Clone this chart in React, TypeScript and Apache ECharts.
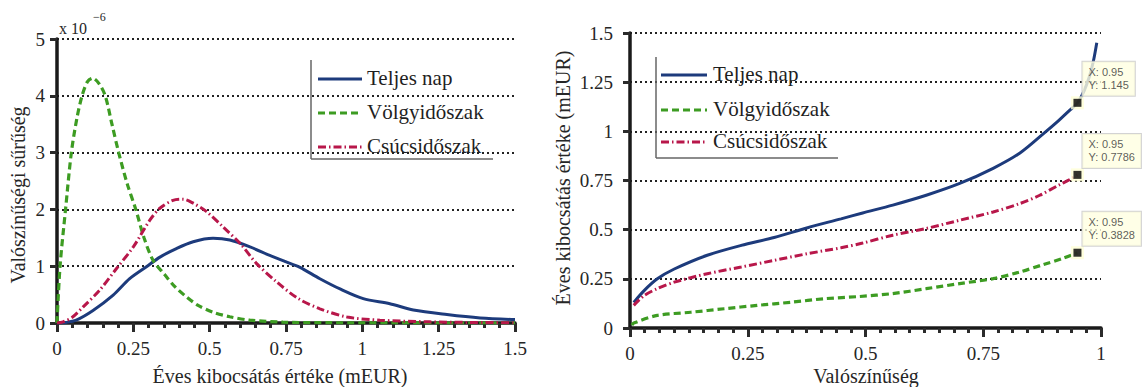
import React, { useEffect, useRef } from 'react';
import * as echarts from 'echarts';

// ---------- data ----------
const seriesNames = ['Teljes nap', 'Völgyidőszak', 'Csúcsidőszak'];

// Left chart: probability density (x 10^-6) vs annual emission value (mEUR)
const leftXTicks = [0, 0.25, 0.5, 0.75, 1, 1.25, 1.5];
const leftYTicks = [0, 1, 2, 3, 4, 5];

const pdfTeljes: [number, number][] = [
  [0, 0], [0.03, 0.01], [0.063, 0.05], [0.118, 0.22], [0.184, 0.49], [0.238, 0.78],
  [0.293, 0.99], [0.337, 1.16], [0.391, 1.31], [0.446, 1.43], [0.511, 1.49], [0.566, 1.46],
  [0.632, 1.34], [0.697, 1.19], [0.763, 1.05], [0.796, 0.98], [0.861, 0.78], [0.927, 0.6],
  [1.003, 0.43], [1.09, 0.34], [1.167, 0.23], [1.277, 0.15], [1.386, 0.09], [1.5, 0.06],
];
const pdfVolgy: [number, number][] = [
  [0, 0], [0.01, 1.0], [0.028, 2.0], [0.047, 3.0], [0.065, 3.6], [0.082, 4.0], [0.1, 4.25],
  [0.117, 4.31], [0.137, 4.22], [0.158, 4.0], [0.18, 3.5], [0.202, 3.0], [0.23, 2.45],
  [0.258, 2.0], [0.285, 1.5], [0.315, 1.1], [0.353, 0.85], [0.386, 0.64], [0.424, 0.46],
  [0.462, 0.31], [0.511, 0.19], [0.566, 0.11], [0.632, 0.05], [0.74, 0.015], [0.9, 0.005],
  [1.1, 0.002], [1.3, 0], [1.5, 0],
];
const pdfCsucs: [number, number][] = [
  [0, 0], [0.02, 0.02], [0.05, 0.1], [0.085, 0.28], [0.14, 0.58], [0.195, 0.96], [0.25, 1.34],
  [0.304, 1.81], [0.337, 2.02], [0.38, 2.16], [0.413, 2.18], [0.446, 2.11], [0.49, 1.96],
  [0.544, 1.69], [0.6, 1.4], [0.653, 1.05], [0.72, 0.72], [0.79, 0.43], [0.861, 0.25],
  [0.95, 0.105], [1.058, 0.05], [1.22, 0.02], [1.35, 0.01], [1.5, 0.005],
];

// Right chart: annual emission value (mEUR) vs probability
const rightXTicks = [0, 0.25, 0.5, 0.75, 1];
const rightYTicks = [0, 0.25, 0.5, 0.75, 1, 1.25, 1.5];

const qTeljes: [number, number][] = [
  [0.008, 0.13], [0.03, 0.19], [0.058, 0.25], [0.094, 0.3], [0.164, 0.37], [0.236, 0.42],
  [0.306, 0.46], [0.377, 0.51], [0.448, 0.555], [0.494, 0.585], [0.558, 0.625], [0.629, 0.675],
  [0.7, 0.735], [0.771, 0.812], [0.828, 0.89], [0.881, 0.995], [0.91, 1.055], [0.935, 1.11],
  [0.95, 1.145], [0.96, 1.185], [0.969, 1.235], [0.978, 1.3], [0.985, 1.37], [0.991, 1.45],
];
const qVolgy: [number, number][] = [
  [0.004, 0.015], [0.008, 0.025], [0.058, 0.064], [0.129, 0.08], [0.2, 0.098], [0.27, 0.115],
  [0.342, 0.131], [0.413, 0.149], [0.487, 0.16], [0.558, 0.175], [0.629, 0.2], [0.7, 0.226],
  [0.771, 0.251], [0.828, 0.285], [0.877, 0.322], [0.92, 0.355], [0.95, 0.3828],
];
const qCsucs: [number, number][] = [
  [0.008, 0.115], [0.03, 0.165], [0.058, 0.2], [0.094, 0.233], [0.164, 0.276], [0.236, 0.31],
  [0.306, 0.344], [0.377, 0.378], [0.448, 0.408], [0.494, 0.432], [0.558, 0.472], [0.629, 0.506],
  [0.7, 0.548], [0.771, 0.59], [0.828, 0.633], [0.87, 0.675], [0.913, 0.73], [0.934, 0.755],
  [0.95, 0.7786],
];

// Data tips
const tipX = 0.95;
const tipY = [1.145, 0.7786, 0.3828];

// ---------- styling ----------
const SERIF = 'Liberation Serif';
const SANS = 'Liberation Sans';
const TXT = '#262626';
const AX = '#1a1a1a';
const TICK = '#2b2b2b';
const COLORS = ['#1d3b7c', '#3d9c22', '#b8174a'];
const DASHES: any[] = ['solid', [7, 4], [8, 3, 1.5, 3]];
const WIDTHS = [3, 3.2, 3];

function makeX(grid: number, ticks: number[], minorSplit: number) {
  return {
    type: 'value', gridIndex: grid,
    min: ticks[0], max: ticks[ticks.length - 1], interval: ticks[1] - ticks[0],
    axisLine: { show: true, lineStyle: { color: AX, width: 3.5 } },
    axisTick: { show: true, length: 9, lineStyle: { color: TICK, width: 3 } },
    minorTick: { show: true, splitNumber: minorSplit, length: 5, lineStyle: { color: TICK, width: 3 } },
    splitLine: { show: false },
    axisLabel: { fontFamily: SERIF, fontSize: 19, color: TXT, margin: 16 },
  };
}
function makeY(grid: number, ticks: number[], margin: number) {
  return {
    type: 'value', gridIndex: grid,
    min: ticks[0], max: ticks[ticks.length - 1], interval: ticks[1] - ticks[0],
    axisLine: { show: true, lineStyle: { color: AX, width: 3.5 } },
    axisTick: { show: true, length: 7, lineStyle: { color: TICK, width: 3 } },
    splitLine: { show: true, lineStyle: { color: '#222', width: 1.8, type: [2, 3] } },
    axisLabel: { fontFamily: SERIF, fontSize: 19, color: TXT, margin },
  };
}

function lineSeries(name: string, idx: number, grid: number, data: [number, number][]) {
  return {
    type: 'line', name, xAxisIndex: grid, yAxisIndex: grid, data,
    showSymbol: false, symbol: 'none', smooth: 0.3,
    lineStyle: { color: COLORS[idx], width: WIDTHS[idx], type: DASHES[idx] },
    z: 3,
  };
}

function txt(x: number, y: number, text: string, size: number, rot = 0, align = 'center', family = SERIF, fill = TXT) {
  return {
    type: 'text', x, y, rotation: rot, z: 10,
    style: { text, fill, fontSize: size, fontFamily: family, textAlign: align, textVerticalAlign: 'middle' },
  };
}

function legendGraphics(x0: number, y0: number, right: number, bottom: number, rows: number[], lx1: number, lx2: number, tx: number) {
  const els: any[] = [
    { type: 'line', shape: { x1: x0, y1: y0, x2: x0, y2: bottom }, style: { stroke: '#666', lineWidth: 1.5 }, z: 10 },
    { type: 'line', shape: { x1: x0, y1: bottom, x2: right, y2: bottom }, style: { stroke: '#666', lineWidth: 1.5 }, z: 10 },
  ];
  seriesNames.forEach((n, i) => {
    const dash = DASHES[i];
    els.push({
      type: 'line', shape: { x1: lx1, y1: rows[i], x2: lx2, y2: rows[i] },
      style: { stroke: COLORS[i], lineWidth: WIDTHS[i], lineDash: Array.isArray(dash) ? dash : null }, z: 10,
    });
    els.push(txt(tx, rows[i] - 1, n, 21, 0, 'left', SERIF, '#1f1f1f'));
  });
  return els;
}

export default function App() {
  const ref = useRef<HTMLDivElement>(null);
  useEffect(() => {
    if (!ref.current) return;
    const chart = echarts.init(ref.current, undefined, { renderer: 'svg' });

    const tipLabel = {
      show: true,
      position: [11.5, -34.5],
      formatter: (p: any) => `X: ${p.value[0]}\nY: ${p.value[1]}`,
      backgroundColor: '#ffffe1', borderColor: '#c8c8c8', borderWidth: 1,
      padding: [4, 6, 4, 6], fontFamily: SANS,
      fontSize: 11, lineHeight: 13, color: '#333',
    };

    const option: any = {
      animation: false,
      grid: [
        { left: 57, top: 39, width: 458, height: 284 },
        { left: 630, top: 33, width: 471, height: 295 },
      ],
      xAxis: [makeX(0, leftXTicks, 5), makeX(1, rightXTicks, 8)],
      yAxis: [makeY(0, leftYTicks, 12), makeY(1, rightYTicks, 17)],
      series: [
        lineSeries(seriesNames[0], 0, 0, pdfTeljes),
        lineSeries(seriesNames[1], 1, 0, pdfVolgy),
        lineSeries(seriesNames[2], 2, 0, pdfCsucs),
        lineSeries(seriesNames[0], 0, 1, qTeljes),
        lineSeries(seriesNames[1], 1, 1, qVolgy),
        lineSeries(seriesNames[2], 2, 1, qCsucs),
        {
          type: 'scatter', xAxisIndex: 1, yAxisIndex: 1, symbol: 'rect', symbolSize: 13,
          itemStyle: { color: '#ffffd6' }, data: tipY.map((y) => [tipX, y]), label: tipLabel, z: 5,
        },
        {
          type: 'scatter', xAxisIndex: 1, yAxisIndex: 1, symbol: 'rect', symbolSize: 8,
          itemStyle: { color: '#000' }, data: tipY.map((y) => [tipX, y]), z: 6,
        },
      ],
      graphic: [
        txt(59, 28, 'x 10', 16, 0, 'left'),
        txt(93, 17, '−6', 12, 0, 'left'),
        txt(18, 195, 'Valószínűségi sűrűség', 20, Math.PI / 2),
        txt(280, 376, 'Éves kibocsátás értéke (mEUR)', 20),
        txt(563, 178, 'Éves kibocsátás értéke (mEUR)', 20, Math.PI / 2),
        txt(866, 376, 'Valószínűség', 20),
        ...legendGraphics(311, 60, 493, 159, [79, 113, 147], 318, 362, 367),
        ...legendGraphics(656, 57, 838, 158, [75, 110, 142], 661, 707, 713),
      ],
    };
    chart.setOption(option);
    return () => chart.dispose();
  }, []);
  return <div ref={ref} style={{ position: 'absolute', left: 0, top: 0, width: 1145, height: 387, background: '#fff' }} />;
}
